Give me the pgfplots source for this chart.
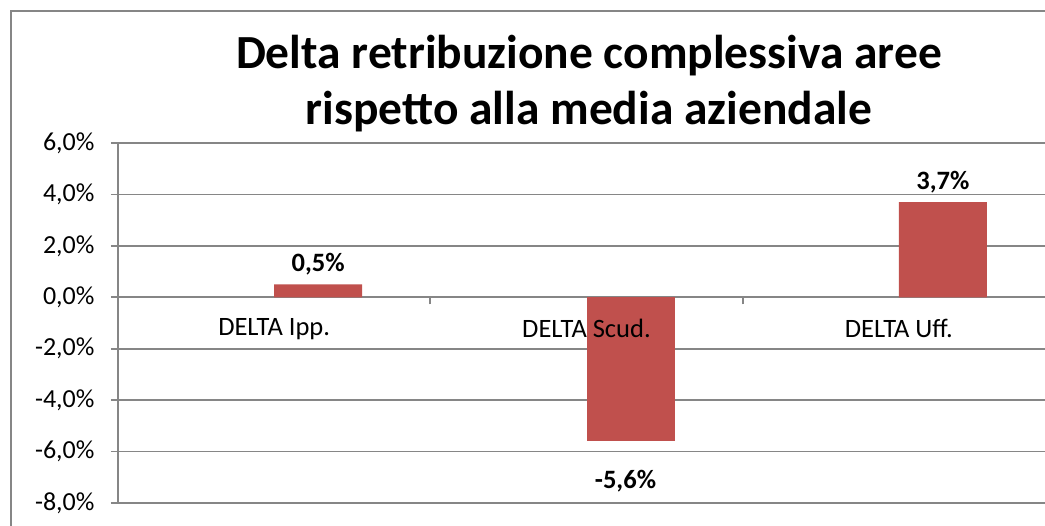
\documentclass[border=0pt]{standalone}
\usepackage{pgfplots}
\pgfplotsset{compat=1.18}
\usepackage{fontspec}
\setmainfont{Carlito}
\definecolor{barred}{HTML}{C0504D}
\definecolor{gridgray}{RGB}{134,134,134}
\begin{document}
\begin{tikzpicture}[x=1pt,y=1pt]
\clip (0,0) rectangle (1045,526);
\fill[white] (0,0) rectangle (1045,526);
\draw[gridgray, line width=2pt] (11,-20) -- (11,515) -- (1100,515);
\node[anchor=base, font=\fontsize{47.5}{56}\selectfont\bfseries] at (589,457) {Delta retribuzione complessiva aree};
\node[anchor=base, font=\fontsize{47.5}{56}\selectfont\bfseries] at (589,401) {rispetto alla media aziendale};
\begin{axis}[
  at={(118pt,23pt)}, anchor=south west,
  scale only axis, width=937pt, height=360pt,
  xmin=-0.5, xmax=2.5, ymin=-8, ymax=6,
  axis x line=middle, axis y line=left,
  axis line style={-, gridgray, line width=1.8pt},
  ytick={-8,-6,-4,-2,0,2,4,6},
  yticklabels={{-8,0\%},{-6,0\%},{-4,0\%},{-2,0\%},{0,0\%},{2,0\%},{4,0\%},{6,0\%}},
  ymajorgrids, major grid style={gridgray, line width=1.8pt},
  tick style={gridgray, line width=1.8pt},
  major tick length=7pt,
  tick align=outside,
  xtick={0.5,1.5,2.5}, xticklabels={},
  yticklabel style={font=\fontsize{26}{31}\selectfont, xshift=-13pt},
  clip=false,
  nodes near coords={\pgfmathprintnumber[fixed,fixed zerofill,precision=1,use comma,assume math mode=true]{\pgfplotspointmeta}\%},
  nodes near coords style={font=\fontsize{26.5}{31}\selectfont\bfseries},
]
\addplot[ybar, bar width=88pt, bar shift=44pt, fill=barred, draw=none,
  nodes near coords style={anchor=center, yshift=20pt, xshift=44pt}]
  coordinates {(0,0.5) (2,3.7)};
\addplot[ybar, bar width=88pt, bar shift=44pt, fill=barred, draw=none,
  nodes near coords style={anchor=center, yshift=-40pt, xshift=39pt}]
  coordinates {(1,-5.6)};
\end{axis}
\begin{axis}[
  at={(118pt,23pt)}, anchor=south west,
  scale only axis, width=937pt, height=360pt,
  xmin=-0.5, xmax=2.5, ymin=-8, ymax=6,
  axis x line=middle, axis line style={draw=none},
  hide y axis,
  xtick={0,1,2},
  xticklabels={DELTA Ipp.,DELTA Scud.,DELTA Uff.},
  major tick length=0pt,
  xticklabel style={anchor=north, yshift=-18pt, font=\fontsize{26.5}{31}\selectfont},
]
\end{axis}
\end{tikzpicture}
\end{document}
